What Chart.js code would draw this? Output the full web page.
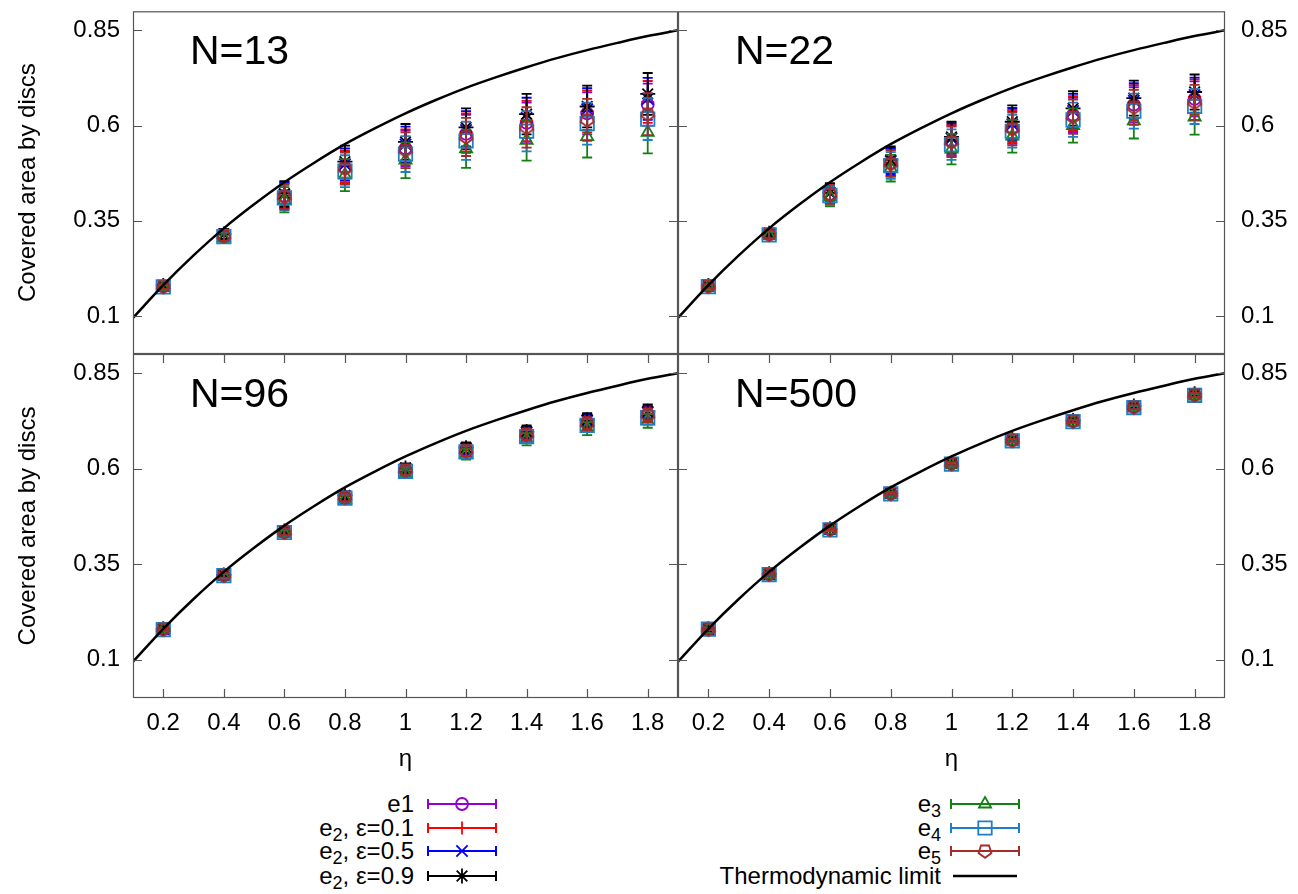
<!DOCTYPE html>
<html>
<head>
<meta charset="utf-8">
<script src="https://cdn.jsdelivr.net/npm/chart.js@4"></script>
<style>
  body { margin: 0; background: #fff; font-family: "Liberation Sans", Arial, sans-serif; }
  #page { position: relative; width: 1298px; height: 894px; overflow: hidden; }
  #page canvas { position: absolute; }
  .lg-label { position: absolute; font-size: 24px; line-height: 28px; text-align: right; white-space: nowrap; color: #000; }
  .lg-label sub { font-size: 0.75em; vertical-align: -0.3em; line-height: 0; }
</style>
</head>
<body>
<div id="page">
  <canvas id="n13" width="690" height="366" style="left:0;top:0"></canvas>
  <canvas id="n22" width="632" height="366" style="left:666px;top:0"></canvas>
  <canvas id="n96" width="690" height="438" style="left:0;top:342px"></canvas>
  <canvas id="n500" width="632" height="438" style="left:666px;top:342px"></canvas>
</div>
<script>
// packing fraction eta and axis ticks
const ETA = [0.2, 0.4, 0.6, 0.8, 1.0, 1.2, 1.4, 1.6, 1.8];
const X_TICKS = [0.2, 0.4, 0.6, 0.8, 1, 1.2, 1.4, 1.6, 1.8];
const Y_TICKS = [0.1, 0.35, 0.6, 0.85];

// N = 13
const E1_N13  = [0.178, 0.312, 0.415, 0.490, 0.540, 0.578, 0.607, 0.632, 0.655];
const E2A_N13 = [0.178, 0.313, 0.416, 0.493, 0.543, 0.582, 0.612, 0.637, 0.662];
const E2B_N13 = [0.179, 0.314, 0.418, 0.498, 0.550, 0.588, 0.620, 0.643, 0.670];
const E2C_N13 = [0.180, 0.315, 0.421, 0.505, 0.557, 0.595, 0.630, 0.650, 0.683];
const E3_N13  = [0.175, 0.305, 0.405, 0.470, 0.509, 0.539, 0.561, 0.571, 0.582];
const E4_N13  = [0.176, 0.308, 0.410, 0.480, 0.525, 0.560, 0.585, 0.605, 0.617];
const E5_N13  = [0.177, 0.310, 0.413, 0.487, 0.535, 0.570, 0.595, 0.615, 0.630];
const ERR_N13 = [0.006, 0.013, 0.033, 0.042, 0.047, 0.050, 0.053, 0.055, 0.055];

// N = 22
const E1_N22  = [0.178, 0.315, 0.420, 0.502, 0.560, 0.595, 0.628, 0.655, 0.670];
const E2A_N22 = [0.178, 0.315, 0.421, 0.503, 0.562, 0.598, 0.632, 0.660, 0.675];
const E2B_N22 = [0.179, 0.316, 0.422, 0.506, 0.566, 0.603, 0.638, 0.665, 0.680];
const E2C_N22 = [0.180, 0.317, 0.424, 0.510, 0.570, 0.610, 0.645, 0.672, 0.688];
const E3_N22  = [0.176, 0.311, 0.413, 0.488, 0.538, 0.572, 0.600, 0.612, 0.622];
const E4_N22  = [0.177, 0.313, 0.416, 0.495, 0.550, 0.585, 0.615, 0.638, 0.650];
const E5_N22  = [0.178, 0.314, 0.419, 0.500, 0.557, 0.591, 0.623, 0.648, 0.661];
const ERR_N22 = [0.005, 0.010, 0.025, 0.035, 0.040, 0.043, 0.045, 0.046, 0.046];

// N = 96
const E1_N96  = [0.180, 0.321, 0.434, 0.526, 0.597, 0.649, 0.691, 0.720, 0.742];
const E2A_N96 = [0.180, 0.321, 0.435, 0.527, 0.598, 0.650, 0.692, 0.722, 0.744];
const E2B_N96 = [0.180, 0.322, 0.436, 0.528, 0.600, 0.652, 0.694, 0.725, 0.747];
const E2C_N96 = [0.181, 0.322, 0.437, 0.530, 0.602, 0.655, 0.697, 0.728, 0.750];
const E3_N96  = [0.179, 0.319, 0.431, 0.520, 0.588, 0.638, 0.677, 0.705, 0.725];
const E4_N96  = [0.179, 0.320, 0.433, 0.523, 0.593, 0.644, 0.684, 0.713, 0.733];
const E5_N96  = [0.180, 0.321, 0.434, 0.525, 0.596, 0.647, 0.689, 0.718, 0.740];
const ERR_N96 = [0.003, 0.006, 0.008, 0.010, 0.012, 0.014, 0.016, 0.017, 0.018];

// N = 500
const E1_N500  = [0.180, 0.324, 0.441, 0.535, 0.613, 0.675, 0.725, 0.762, 0.794];
const E2A_N500 = [0.180, 0.324, 0.441, 0.535, 0.613, 0.675, 0.725, 0.762, 0.794];
const E2B_N500 = [0.180, 0.324, 0.442, 0.536, 0.614, 0.676, 0.726, 0.763, 0.795];
const E2C_N500 = [0.181, 0.325, 0.442, 0.536, 0.614, 0.676, 0.726, 0.764, 0.796];
const E3_N500  = [0.179, 0.323, 0.440, 0.533, 0.611, 0.672, 0.722, 0.759, 0.790];
const E4_N500  = [0.180, 0.323, 0.440, 0.534, 0.612, 0.673, 0.723, 0.760, 0.792];
const E5_N500  = [0.180, 0.324, 0.441, 0.535, 0.613, 0.674, 0.724, 0.761, 0.793];
const ERR_N500 = [0.002, 0.003, 0.003, 0.004, 0.004, 0.004, 0.004, 0.005, 0.005];

// thermodynamic limit curve
const TD_ETA  = [0.1, 0.2, 0.3, 0.4, 0.5, 0.6, 0.7, 0.8, 0.9, 1.0, 1.1, 1.2, 1.3, 1.4, 1.5, 1.6, 1.7, 1.8, 1.9];
const TD_AREA = [0.095, 0.181, 0.259, 0.330, 0.393, 0.451, 0.503, 0.551, 0.593, 0.632, 0.667, 0.699, 0.727, 0.753, 0.777, 0.798, 0.817, 0.835, 0.850];

// open pentagon marker (point down)
function pentagon(color) {
  const c = document.createElement('canvas');
  c.width = 18; c.height = 18;
  const g = c.getContext('2d');
  g.strokeStyle = color; g.lineWidth = 1.8;
  g.beginPath();
  for (let k = 0; k < 5; k++) {
    const a = Math.PI / 2 + k * 2 * Math.PI / 5;
    const px = 9 + 6.8 * Math.cos(a), py = 9 + 6.8 * Math.sin(a);
    k ? g.lineTo(px, py) : g.moveTo(px, py);
  }
  g.closePath(); g.stroke();
  return c;
}

const SERIES = [
  { html: 'e1',                       color: '#9400d3', style: 'circle',   r: 6 },
  { html: 'e<sub>2</sub>, ε=0.1',     color: '#ff0000', style: 'cross',    r: 6.5 },
  { html: 'e<sub>2</sub>, ε=0.5',     color: '#0000ff', style: 'crossRot', r: 8 },
  { html: 'e<sub>2</sub>, ε=0.9',     color: '#000000', style: 'star',     r: 7.5 },
  { html: 'e<sub>3</sub>',            color: '#138013', style: 'triangle', r: 7 },
  { html: 'e<sub>4</sub>',            color: '#1f7fc4', style: 'rect',     r: 9.5 },
  { html: 'e<sub>5</sub>',            color: '#a52a2a', style: pentagon('#a52a2a'), r: 7 }
];

const PANELS = [
  { id: 'n13',  text: 'N=13',  left: true,  bottom: false,
    series: [E1_N13, E2A_N13, E2B_N13, E2C_N13, E3_N13, E4_N13, E5_N13], err: ERR_N13 },
  { id: 'n22',  text: 'N=22',  left: false, bottom: false,
    series: [E1_N22, E2A_N22, E2B_N22, E2C_N22, E3_N22, E4_N22, E5_N22], err: ERR_N22 },
  { id: 'n96',  text: 'N=96',  left: true,  bottom: true,
    series: [E1_N96, E2A_N96, E2B_N96, E2C_N96, E3_N96, E4_N96, E5_N96], err: ERR_N96 },
  { id: 'n500', text: 'N=500', left: false, bottom: true,
    series: [E1_N500, E2A_N500, E2B_N500, E2C_N500, E3_N500, E4_N500, E5_N500], err: ERR_N500 }
];

Chart.defaults.font.family = '"Liberation Sans", Arial, sans-serif';
Chart.defaults.color = '#000';

// error bars under each dataset, frame with inward ticks, panel caption
const panelPlugin = {
  id: 'panel',
  beforeDatasetDraw(chart, args) {
    const ds = chart.data.datasets[args.index];
    if (!ds.yErr) return;
    const ctx = chart.ctx, ys = chart.scales.y;
    ctx.save();
    ctx.strokeStyle = ds.borderColor;
    ctx.lineWidth = 1.8;
    args.meta.data.forEach((pt, i) => {
      const v = ds.data[i].y, e = ds.yErr[i];
      const lo = ys.getPixelForValue(v - e), hi = ys.getPixelForValue(v + e);
      ctx.beginPath();
      ctx.moveTo(pt.x, lo); ctx.lineTo(pt.x, hi);
      ctx.moveTo(pt.x - 5, lo); ctx.lineTo(pt.x + 5, lo);
      ctx.moveTo(pt.x - 5, hi); ctx.lineTo(pt.x + 5, hi);
      ctx.stroke();
    });
    ctx.restore();
  },
  afterDatasetsDraw(chart, args, opts) {
    const { ctx, chartArea: a, scales } = chart;
    ctx.save();
    ctx.strokeStyle = '#555';
    ctx.lineWidth = 1.2;
    ctx.strokeRect(a.left + 0.5, a.top + 0.5, a.right - a.left - 1, a.bottom - a.top - 1);
    ctx.beginPath();
    Y_TICKS.forEach(v => {
      const y = Math.round(scales.y.getPixelForValue(v)) + 0.5;
      ctx.moveTo(a.left, y); ctx.lineTo(a.left + 9, y);
      ctx.moveTo(a.right, y); ctx.lineTo(a.right - 9, y);
    });
    if (opts.xTicks) {
      X_TICKS.forEach(v => {
        const x = Math.round(scales.x.getPixelForValue(v)) + 0.5;
        ctx.moveTo(x, a.bottom); ctx.lineTo(x, a.bottom - 9);
        ctx.moveTo(x, a.top); ctx.lineTo(x, a.top + 9);
      });
    }
    ctx.stroke();
    ctx.fillStyle = '#000';
    ctx.font = '41px "Liberation Sans", Arial, sans-serif';
    ctx.textBaseline = 'alphabetic';
    ctx.fillText(opts.text, a.left + 57, a.top + 53);
    ctx.restore();
  }
};

PANELS.forEach(p => {
  const datasets = SERIES.map((s, k) => ({
    label: s.html,
    data: ETA.map((x, i) => ({ x, y: p.series[k][i] })),
    yErr: p.err,
    borderColor: s.color,
    backgroundColor: 'rgba(0,0,0,0)',
    pointStyle: s.style,
    pointRadius: s.r,
    pointBorderWidth: 1.8,
    showLine: false,
    order: 7 - k
  }));
  datasets.push({
    label: 'Thermodynamic limit',
    data: TD_ETA.map((x, i) => ({ x, y: TD_AREA[i] })),
    showLine: true,
    borderColor: '#000',
    borderWidth: 2.5,
    pointRadius: 0,
    cubicInterpolationMode: 'monotone',
    order: 0
  });

  const yWidth = p.left ? 133 : 73;
  const xHeight = p.bottom ? 82 : 0;
  new Chart(document.getElementById(p.id), {
    type: 'scatter',
    data: { datasets },
    plugins: [panelPlugin],
    options: {
      responsive: false,
      animation: false,
      devicePixelRatio: 1,
      layout: {
        padding: {
          left: p.left ? 0 : 12,
          right: p.left ? 12 : 0,
          top: p.bottom ? 12 : 9,
          bottom: p.bottom ? 0 : 12
        }
      },
      plugins: {
        legend: { display: false },
        tooltip: { enabled: false },
        panel: { text: p.text, xTicks: p.bottom }
      },
      scales: {
        x: {
          type: 'linear',
          display: p.bottom,
          min: 0.1,
          max: 1.9,
          afterBuildTicks: s => { s.ticks = X_TICKS.map(v => ({ value: v })); },
          afterFit: s => { s.height = xHeight; s.paddingLeft = 0; s.paddingRight = 0; },
          grid: { display: false, drawTicks: false },
          border: { display: false },
          ticks: { font: { size: 24 }, padding: 11, callback: v => String(v) },
          title: { display: true, text: 'η', font: { size: 24 }, padding: { top: 0, bottom: 6 } }
        },
        y: {
          type: 'linear',
          position: p.left ? 'left' : 'right',
          min: 0,
          max: 0.9,
          afterBuildTicks: s => { s.ticks = Y_TICKS.map(v => ({ value: v })); },
          afterFit: s => { s.width = yWidth; s.paddingTop = 0; s.paddingBottom = 0; },
          grid: { display: false, drawTicks: false },
          border: { display: false },
          ticks: { font: { size: 24 }, padding: p.left ? 13 : 16, callback: v => String(v) },
          title: {
            display: p.left,
            text: 'Covered area by discs',
            font: { size: 24 },
            padding: { top: 14, bottom: 0 }
          }
        }
      }
    }
  });
});

// legend below the panels
const page = document.getElementById('page');
const ROW_Y = [803.5, 827.5, 851, 875.5];
const LEGEND = [
  { s: 0, col: 0, row: 0 }, { s: 1, col: 0, row: 1 }, { s: 2, col: 0, row: 2 }, { s: 3, col: 0, row: 3 },
  { s: 4, col: 1, row: 0 }, { s: 5, col: 1, row: 1 }, { s: 6, col: 1, row: 2 }, { s: -1, col: 1, row: 3 }
];
const COL_X = [{ textRight: 414, sample: 426 }, { textRight: 941, sample: 949 }];

LEGEND.forEach(item => {
  const c = COL_X[item.col];
  const cy = ROW_Y[item.row];
  const lab = document.createElement('div');
  lab.className = 'lg-label';
  lab.style.right = (1298 - c.textRight) + 'px';
  lab.style.top = (cy - 14) + 'px';
  lab.innerHTML = item.s >= 0 ? SERIES[item.s].html : 'Thermodynamic limit';
  page.appendChild(lab);

  const cv = document.createElement('canvas');
  cv.width = 72; cv.height = 22;
  cv.style.left = c.sample + 'px';
  cv.style.top = (cy - 11) + 'px';
  page.appendChild(cv);
  const g = cv.getContext('2d');
  if (item.s < 0) {
    g.strokeStyle = '#000'; g.lineWidth = 2.5;
    g.beginPath(); g.moveTo(4, 11); g.lineTo(68, 11); g.stroke();
    return;
  }
  const s = SERIES[item.s];
  g.strokeStyle = s.color; g.lineWidth = 2;
  g.beginPath();
  g.moveTo(2, 11); g.lineTo(70, 11);
  g.moveTo(2, 6); g.lineTo(2, 16);
  g.moveTo(70, 6); g.lineTo(70, 16);
  g.stroke();
  g.fillStyle = 'rgba(0,0,0,0)';
  g.lineWidth = 1.8;
  Chart.helpers.drawPoint(g, { pointStyle: s.style, radius: s.r, rotation: 0, borderWidth: 1.8 }, 36, 11);
});
</script>
</body>
</html>
